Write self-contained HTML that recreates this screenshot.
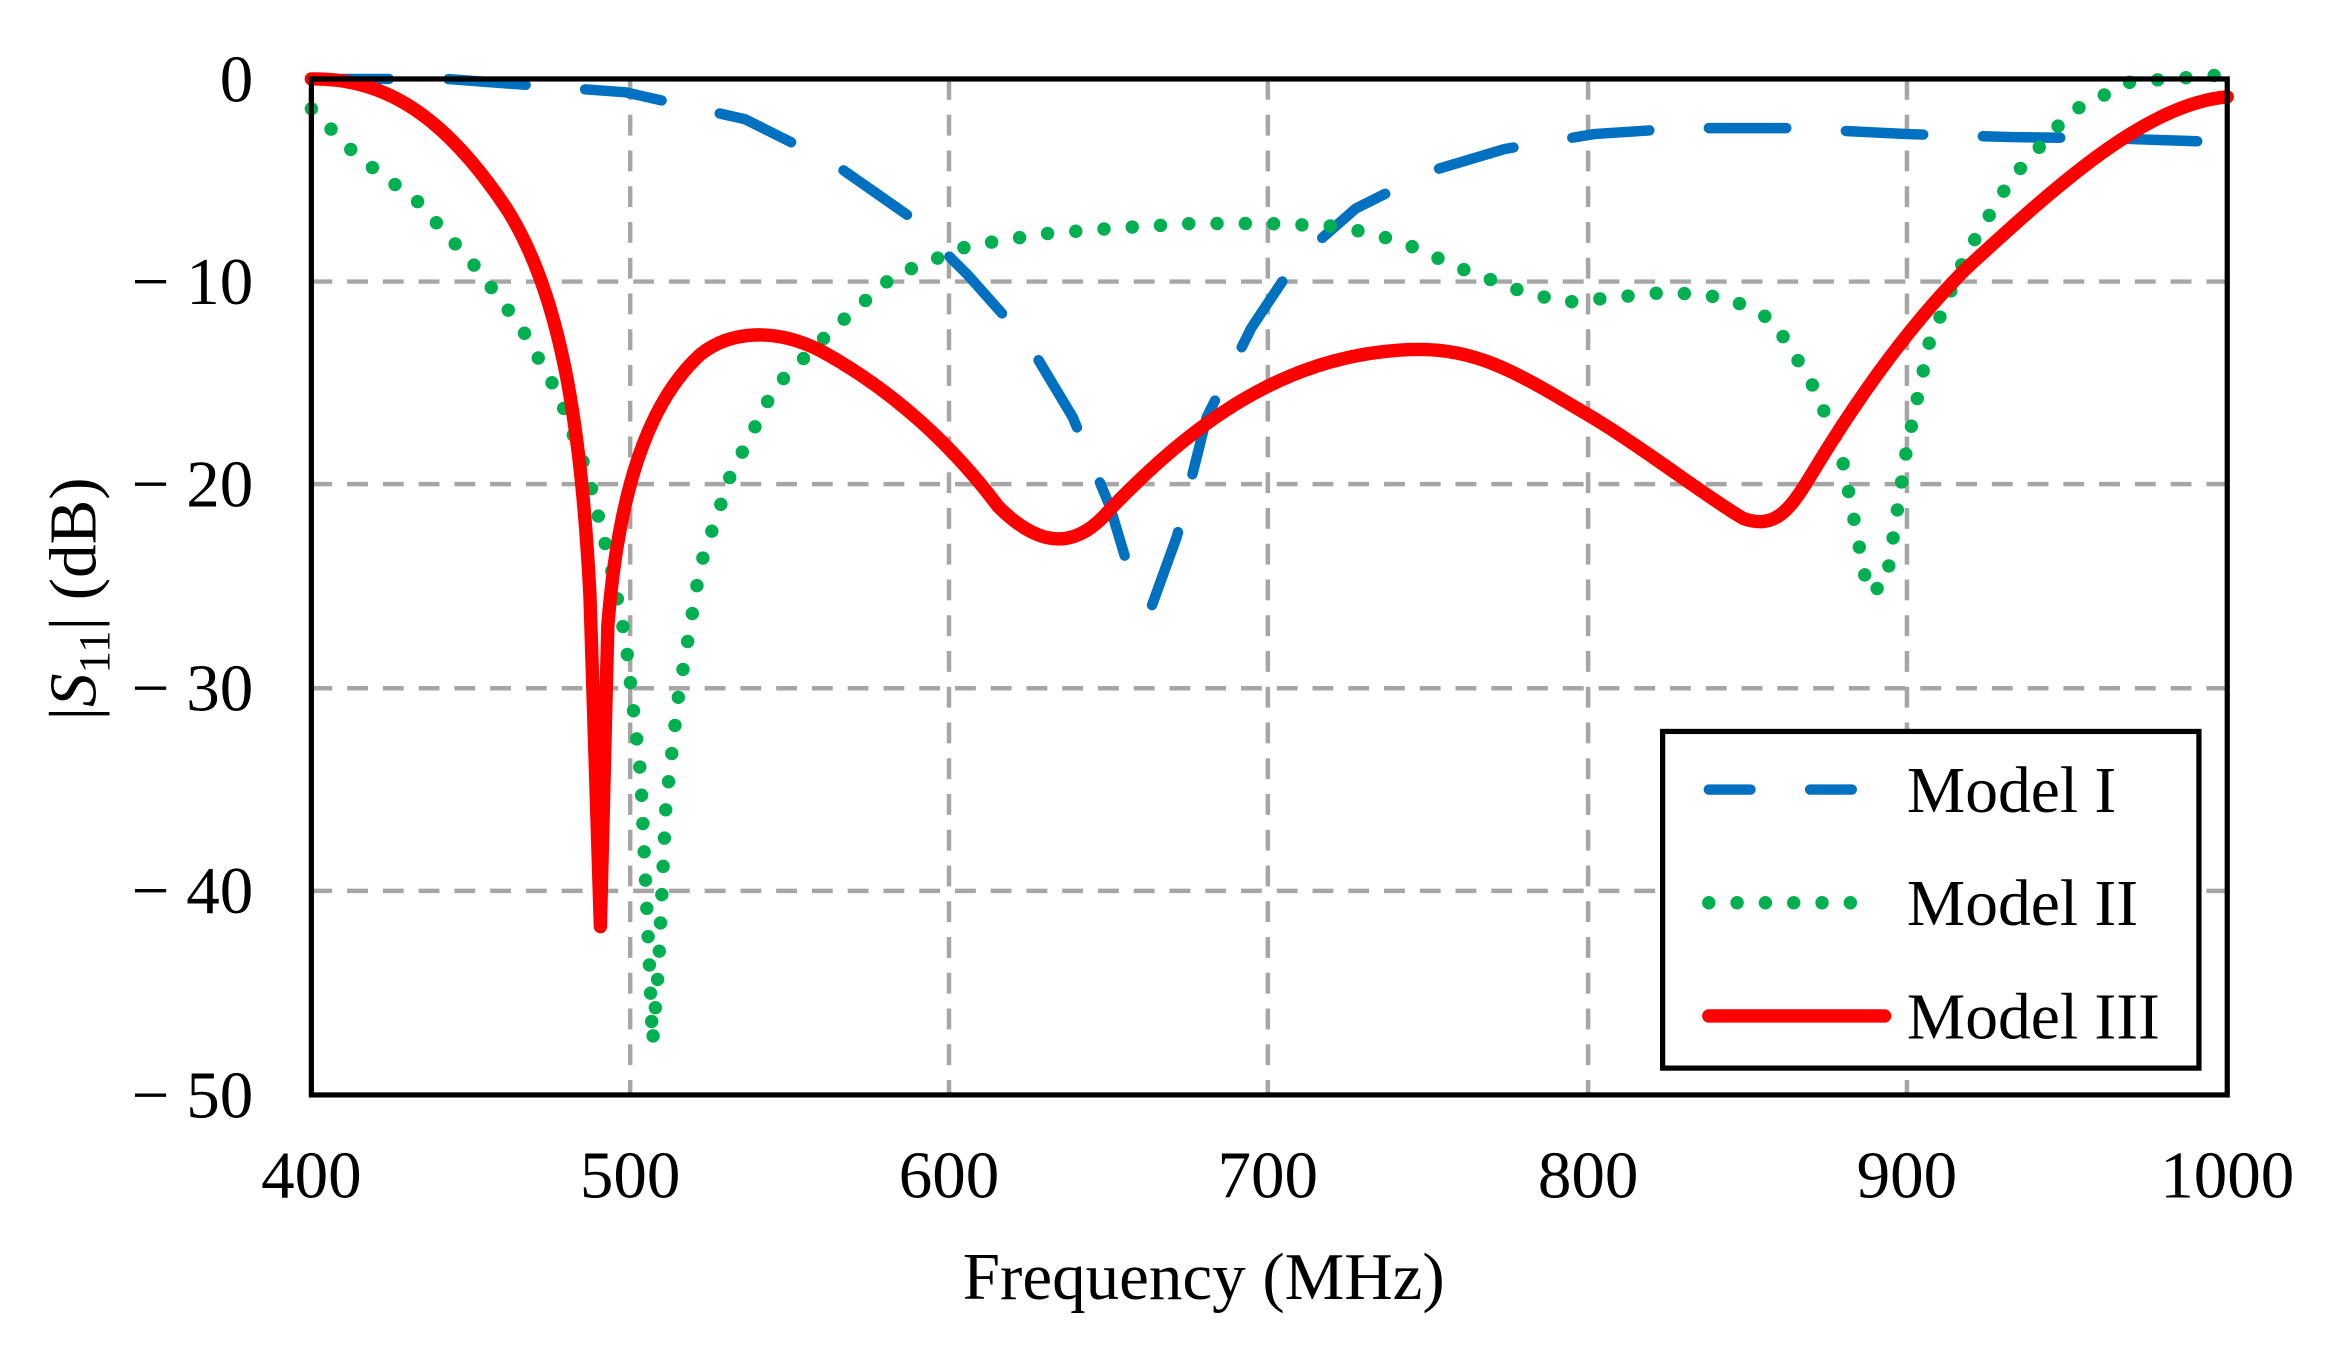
<!DOCTYPE html>
<html><head><meta charset="utf-8"><style>html,body{margin:0;padding:0;background:#fff}svg{display:block}</style></head>
<body>
<svg width="2336" height="1368" viewBox="0 0 1568 918.3" preserveAspectRatio="none" xmlns="http://www.w3.org/2000/svg" font-family="Liberation Serif, serif">
<rect width="1568" height="918.3" fill="#fff"/>
<g stroke="#a6a6a6" stroke-width="3" stroke-dasharray="14 10">
<line x1="209" y1="189" x2="1495" y2="189"/>
<line x1="209" y1="325" x2="1495" y2="325"/>
<line x1="209" y1="462" x2="1495" y2="462"/>
<line x1="209" y1="598" x2="1495" y2="598"/>
<line x1="423" y1="53" x2="423" y2="735"/>
<line x1="637" y1="53" x2="637" y2="735"/>
<line x1="851" y1="53" x2="851" y2="735"/>
<line x1="1066" y1="53" x2="1066" y2="735"/>
<line x1="1280" y1="53" x2="1280" y2="735"/>
</g>
<polyline fill="none" stroke="#0070c0" stroke-width="7" stroke-linecap="round" stroke-dasharray="52 40" stroke-linejoin="round"
points="209,53 300,53 420,62 500,80 560,110 610,145 650,185 690,230 720,280 745,340 760,390 773,407 790,360 810,280 840,220 870,175 910,140 960,115 1010,100 1070,90 1130,86 1200,86 1280,90 1350,92 1420,93 1480,95"/>
<polyline fill="none" stroke="#00b050" stroke-width="9" stroke-linecap="round" stroke-dasharray="0 19" stroke-linejoin="round"
points="209,73 240,105 280,135 320,180 350,220 375,265 395,320 410,380 420,430 430,520 436,650 438,700 442,650 447,540 455,470 470,380 490,320 520,260 560,220 600,185 650,165 700,157 750,153 800,150 850,150 900,152 940,162 980,180 1020,195 1050,203 1080,200 1120,196 1160,200 1190,215 1215,255 1235,300 1254,398 1266,392 1280,300 1295,230 1320,170 1350,120 1390,75 1430,55 1495,50"/>
<path fill="none" stroke="#ff0000" stroke-width="9" stroke-linecap="round" stroke-linejoin="round"
d="M209,53 C260,52 300,80 340,140 C375,195 390,280 396,400 L403,622 L408,420 C415,330 435,270 470,238 C490,222 520,220 550,235 C600,262 640,300 670,340 C695,365 720,372 745,342 C800,285 860,240 940,235 C985,232 1010,245 1060,275 C1100,298 1140,330 1170,348 C1190,355 1200,345 1215,320 C1245,270 1280,220 1320,180 C1380,125 1440,70 1495,65"/>
<rect x="209" y="53" width="1286" height="682" fill="none" stroke="#000" stroke-width="3.5"/>
<g font-size="45" fill="#000" text-anchor="end">
<text x="170" y="68">0</text>
<text x="170" y="204">− 10</text>
<text x="170" y="340">− 20</text>
<text x="170" y="477">− 30</text>
<text x="170" y="613">− 40</text>
<text x="170" y="750">− 50</text>
</g>
<g font-size="45" fill="#000" text-anchor="middle">
<text x="209" y="804">400</text>
<text x="423" y="804">500</text>
<text x="637" y="804">600</text>
<text x="851" y="804">700</text>
<text x="1066" y="804">800</text>
<text x="1280" y="804">900</text>
<text x="1495" y="804">1000</text>
<text x="808" y="872">Frequency (MHz)</text>
</g>
<text transform="translate(64,402) rotate(-90)" font-size="45" text-anchor="middle" fill="#000">|<tspan font-style="italic">S</tspan><tspan font-size="30" dy="9">11</tspan><tspan dy="-9">| (dB)</tspan></text>
<rect x="1116" y="491" width="360" height="226" fill="#fff" stroke="#000" stroke-width="3.5"/>
<line x1="1147" y1="530" x2="1245" y2="530" stroke="#0070c0" stroke-width="7" stroke-linecap="round" stroke-dasharray="28 40"/>
<line x1="1147" y1="606" x2="1245" y2="606" stroke="#00b050" stroke-width="9" stroke-linecap="round" stroke-dasharray="0 19"/>
<line x1="1147" y1="682" x2="1265" y2="682" stroke="#ff0000" stroke-width="9" stroke-linecap="round"/>
<g font-size="44" fill="#000">
<text x="1280" y="545">Model I</text>
<text x="1280" y="621">Model II</text>
<text x="1280" y="697">Model III</text>
</g>
</svg>
</body></html>
